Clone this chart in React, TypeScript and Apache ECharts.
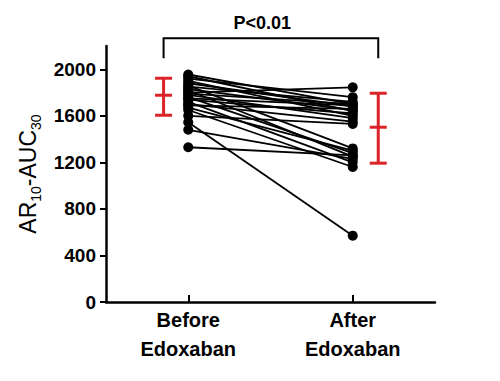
import React, { useEffect, useRef } from "react";
import * as echarts from "echarts";

const categories = ["Before\nEdoxaban", "After\nEdoxaban"];
const beforeValues = [1955, 1940, 1920, 1900, 1880, 1860, 1850, 1830, 1820, 1800, 1790, 1780, 1760, 1750, 1740, 1720, 1700, 1690, 1670, 1650, 1600, 1545, 1480, 1330];
const afterValues = [1700, 1640, 1760, 1600, 1680, 1320, 1720, 1650, 1250, 1845, 1700, 1580, 1280, 1690, 1620, 1200, 1550, 1660, 1300, 1160, 1530, 570, 1230, 1260];
const meanValues = [1777, 1502];
const lowValues = [1605, 1193];
const highValues = [1923, 1794];
const errorBarX = [0.85, 2.155];
const yTicks = [0, 400, 800, 1200, 1600, 2000];
const pLabel = "P<0.01";
const pLabelX = 1.45;
const bracketEnd = 2094;
const bracketTop = 2266;
const pLabelY = 2395;

const FONT = "'Liberation Sans', Arial, sans-serif";
const RED = "#dc2328";

export default function App() {
  const ref = useRef<HTMLDivElement>(null);
  useEffect(() => {
    if (!ref.current) return;
    const chart = echarts.init(ref.current, undefined, { renderer: "svg" });

    const pairSeries = beforeValues.map((b, i) => ({
      type: "line",
      data: [
        [1, b],
        [2, afterValues[i]],
      ],
      symbol: "circle",
      symbolSize: 10,
      lineStyle: { color: "#000", width: 1.8 },
      itemStyle: { color: "#000" },
      z: 2,
      silent: true,
    }));

    const errorSeries = {
      type: "custom",
      clip: false,
      z: 3,
      data: meanValues.map((m, i) => [errorBarX[i], m, lowValues[i], highValues[i]]),
      renderItem: (params: any, api: any) => {
        const x = api.value(0);
        const pm = api.coord([x, api.value(1)]);
        const pl = api.coord([x, api.value(2)]);
        const ph = api.coord([x, api.value(3)]);
        const hw = 8.5;
        const style = { stroke: RED, lineWidth: 3 };
        return {
          type: "group",
          children: [
            { type: "line", shape: { x1: pl[0], y1: pl[1], x2: ph[0], y2: ph[1] }, style },
            { type: "line", shape: { x1: pl[0] - hw, y1: pl[1], x2: pl[0] + hw, y2: pl[1] }, style },
            { type: "line", shape: { x1: ph[0] - hw, y1: ph[1], x2: ph[0] + hw, y2: ph[1] }, style },
            { type: "line", shape: { x1: pm[0] - hw, y1: pm[1], x2: pm[0] + hw, y2: pm[1] }, style },
          ],
        };
      },
    };

    const bracketSeries = {
      type: "custom",
      clip: false,
      z: 3,
      data: [[errorBarX[0], errorBarX[1], bracketEnd, bracketTop, pLabelY, pLabelX]],
      renderItem: (params: any, api: any) => {
        const x1 = api.value(0);
        const x2 = api.value(1);
        const a = api.coord([x1, api.value(2)]);
        const b = api.coord([x1, api.value(3)]);
        const c = api.coord([x2, api.value(3)]);
        const d = api.coord([x2, api.value(2)]);
        const t = api.coord([api.value(5), api.value(4)]);
        return {
          type: "group",
          children: [
            {
              type: "polyline",
              shape: { points: [a, b, c, d] },
              style: { stroke: "#000", lineWidth: 2, fill: "none" },
            },
            {
              type: "text",
              x: t[0],
              y: t[1],
              style: {
                text: pLabel,
                fontSize: 18,
                fontWeight: "bold",
                fontFamily: FONT,
                fill: "#000",
                align: "center",
                verticalAlign: "middle",
              },
            },
          ],
        };
      },
    };

    chart.setOption({
      animation: false,
      backgroundColor: "#fff",
      grid: { left: 106, right: 65, top: 46, bottom: 79 },
      xAxis: {
        type: "value",
        min: 0.5,
        max: 2.5,
        splitLine: { show: false },
        axisLine: { show: true, lineStyle: { color: "#000", width: 2.5 } },
        axisTick: {
          show: true,
          inside: true,
          length: 7,
          customValues: [1, 2],
          lineStyle: { color: "#000", width: 2 },
        },
        axisLabel: {
          customValues: [1, 2],
          formatter: (v: number) => categories[Math.round(v) - 1] ?? "",
          color: "#000",
          fontSize: 20,
          fontWeight: "bold",
          fontFamily: FONT,
          lineHeight: 29,
          margin: 3,
        },
      },
      yAxis: {
        type: "value",
        min: 0,
        max: 2200,
        interval: 400,
        splitLine: { show: false },
        axisLine: { show: true, lineStyle: { color: "#000", width: 2.5 } },
        axisTick: {
          show: true,
          length: 6,
          customValues: yTicks,
          lineStyle: { color: "#000", width: 2 },
        },
        axisLabel: {
          customValues: yTicks,
          formatter: (v: number) => String(v),
          color: "#000",
          fontSize: 19,
          fontWeight: "bold",
          fontFamily: FONT,
          margin: 10,
        },
        name: "{a|AR}{s|10}{a|-AUC}{s|30}",
        nameLocation: "middle",
        nameGap: 64,
        nameTextStyle: {
          rich: {
            a: { fontSize: 23, fontFamily: FONT, color: "#000", lineHeight: 26, verticalAlign: "bottom" },
            s: { fontSize: 14, fontFamily: FONT, color: "#000", lineHeight: 15, verticalAlign: "bottom", padding: [0, 0, -3, 0] },
          },
        },
      },
      series: [...pairSeries, errorSeries, bracketSeries],
    });

    return () => chart.dispose();
  }, []);

  return (
    <div
      ref={ref}
      style={{ position: "fixed", left: 0, top: 0, width: 500, height: 381, background: "#fff" }}
    />
  );
}
